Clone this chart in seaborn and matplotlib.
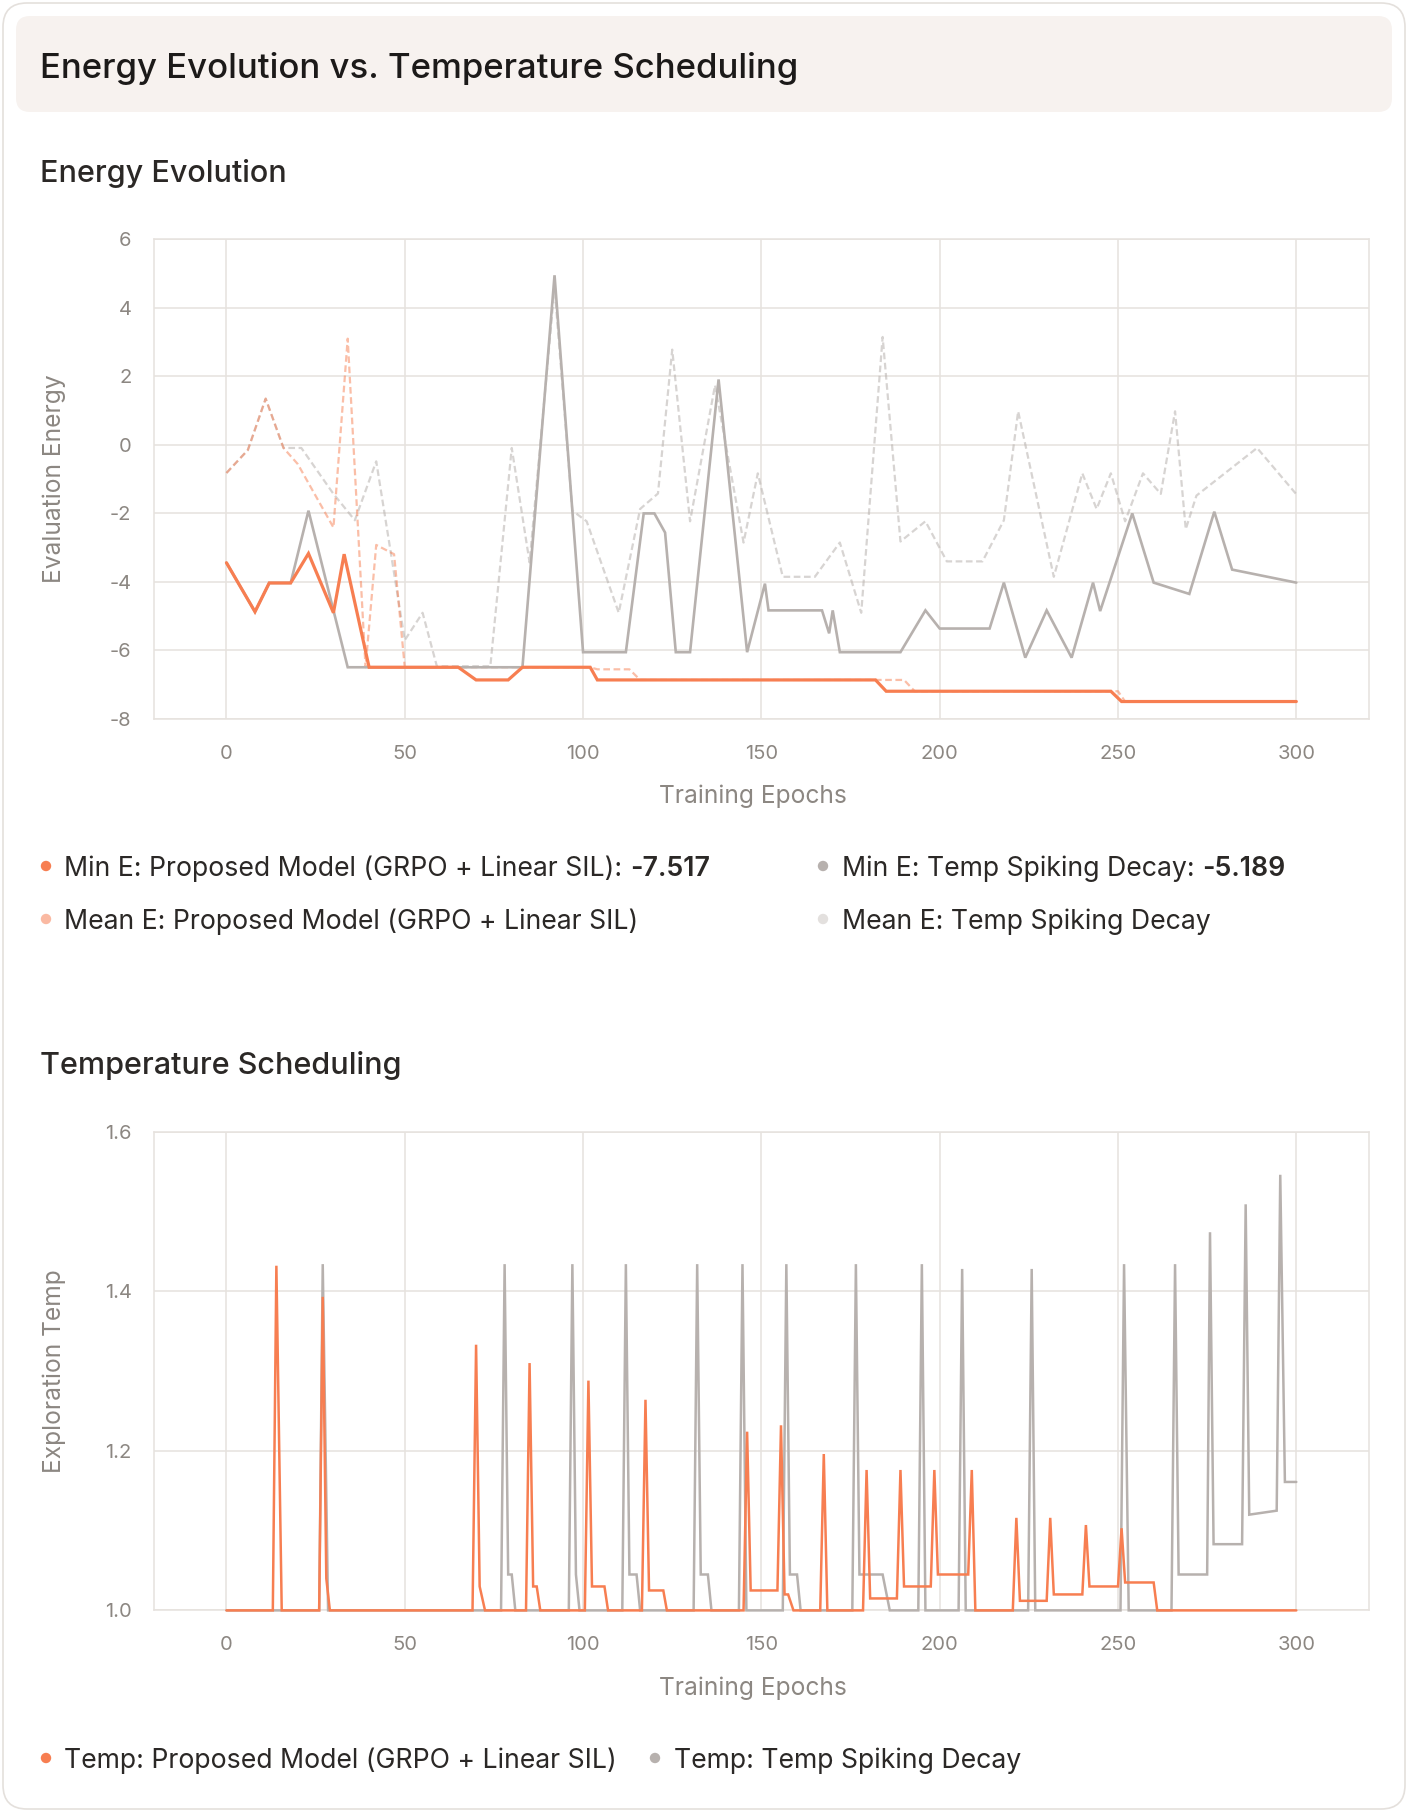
import numpy as np
import pandas as pd
import seaborn as sns
import matplotlib.pyplot as plt
from matplotlib.patches import FancyBboxPatch, Circle

"""
Data read off the chart (epoch, value vertices)
"""
# Energy evolution
min_prop_epochs = [0, 8, 12, 18, 23, 30, 33, 40, 65, 70, 79, 83, 102, 104, 182, 185, 248, 251, 300]
min_prop_values = [-3.44, -4.87, -4.03, -4.03, -3.17, -4.90, -3.19, -6.49, -6.49, -6.86,
                   -6.86, -6.49, -6.49, -6.86, -6.86, -7.19, -7.19, -7.49, -7.49]

min_spike_epochs = [0, 8, 12, 18, 23, 34, 83, 92, 100, 112, 117, 120, 123, 126, 130, 138, 146, 151, 152, 167,
                    169, 170, 172, 189, 196, 200, 214, 218, 224, 230, 237, 243, 245, 254, 260, 270, 277, 282, 300]
min_spike_values = [-3.44, -4.87, -4.03, -4.03, -1.92, -6.49, -6.49, 4.95, -6.05, -6.05,
                    -2.00, -2.00, -2.56, -6.05, -6.05, 1.91, -6.05, -4.05, -4.83, -4.83,
                    -5.50, -4.83, -6.05, -6.05, -4.83, -5.36, -5.36, -4.02, -6.21, -4.83,
                    -6.21, -4.02, -4.85, -2.00, -4.02, -4.35, -1.95, -3.64, -4.02]

mean_prop_epochs = [0, 6, 11, 16, 20, 30, 34, 39, 42, 47, 50, 102, 104, 113, 116, 190, 193, 250, 252, 300]
mean_prop_values = [-0.82, -0.15, 1.35, -0.09, -0.56, -2.41, 3.10, -6.49, -2.92, -3.19,
                    -6.49, -6.49, -6.55, -6.55, -6.86, -6.86, -7.19, -7.19, -7.49, -7.49]

mean_spike_epochs = [0, 6, 11, 16, 21, 30, 36, 42, 50, 55, 59, 74, 80, 85, 92, 97, 101, 110, 116, 121,
                     125, 130, 137, 145, 149, 156, 165, 172, 178, 184, 189, 196, 202, 212, 218, 222,
                     232, 240, 244, 248, 252, 257, 262, 266, 269, 272, 289, 300]
mean_spike_values = [-0.82, -0.15, 1.35, -0.09, -0.09, -1.43, -2.20, -0.48, -5.70, -4.90,
                     -6.46, -6.46, -0.09, -3.43, 4.60, -1.92, -2.23, -4.90, -1.87, -1.42,
                     2.78, -2.23, 1.74, -2.85, -0.83, -3.85, -3.85, -2.85, -4.90, 3.15,
                     -2.82, -2.23, -3.40, -3.40, -2.20, 0.98, -3.85, -0.83, -1.87, -0.83,
                     -2.23, -0.83, -1.43, 0.98, -2.46, -1.48, -0.09, -1.44]

# Temperature scheduling
temp_prop_epochs = [0, 13, 14, 15.5, 26, 27, 28, 29, 69, 70, 71, 72.5, 84, 85, 86, 87, 88,
                    100.5, 101.5, 102.5, 106, 107, 116.5, 117.5, 118.5, 122.5, 123.5,
                    145, 146, 147, 154.5, 155.5, 156.5, 157.5, 159, 166.5, 167.5, 168.5,
                    178.5, 179.5, 180.5, 188, 189, 190, 197.5, 198.5, 199.5, 208, 209, 210,
                    220.5, 221.5, 222.5, 230, 231, 232, 240, 241, 242, 250, 251, 252, 260, 261, 300]
temp_prop_values = [1.0, 1.0, 1.432, 1.0, 1.0, 1.393, 1.04, 1.0, 1.0, 1.333, 1.03, 1.0, 1.0, 1.31, 1.03, 1.03, 1.0,
                    1.0, 1.288, 1.03, 1.03, 1.0, 1.0, 1.264, 1.025, 1.025, 1.0,
                    1.0, 1.224, 1.025, 1.025, 1.232, 1.02, 1.02, 1.0, 1.0, 1.196, 1.0,
                    1.0, 1.176, 1.015, 1.015, 1.176, 1.03, 1.03, 1.176, 1.045, 1.045, 1.176, 1.0,
                    1.0, 1.116, 1.012, 1.012, 1.116, 1.02, 1.02, 1.107, 1.03, 1.03, 1.103, 1.035, 1.035, 1.0, 1.0]

temp_spike_epochs = [0, 26, 27, 28.5, 77, 78, 79, 80, 81, 96, 97, 98, 99, 111, 112, 113, 115, 116,
                     131, 132, 133, 135, 136, 143.7, 144.7, 145.8, 156, 157, 158, 160, 161,
                     175.5, 176.5, 177.5, 184, 186, 194, 195, 196, 205.3, 206.3, 207.3,
                     224.8, 225.8, 226.8, 250.7, 251.7, 253, 265, 266, 267, 275, 275.8, 276.8,
                     284.8, 285.8, 286.8, 294.5, 295.5, 296.8, 300]
temp_spike_values = [1.0, 1.0, 1.434, 1.0, 1.0, 1.434, 1.045, 1.045, 1.0, 1.0, 1.434, 1.045, 1.0, 1.0, 1.434, 1.045, 1.045, 1.0,
                     1.0, 1.434, 1.045, 1.045, 1.0, 1.0, 1.434, 1.0, 1.0, 1.434, 1.045, 1.045, 1.0,
                     1.0, 1.434, 1.045, 1.045, 1.0, 1.0, 1.434, 1.0, 1.0, 1.428, 1.0,
                     1.0, 1.428, 1.0, 1.0, 1.434, 1.0, 1.0, 1.434, 1.045, 1.045, 1.474, 1.083,
                     1.083, 1.509, 1.12, 1.125, 1.546, 1.161, 1.161]

x_ticks = [0, 50, 100, 150, 200, 250, 300]
energy_ticks = [-8, -6, -4, -2, 0, 2, 4, 6]
temp_ticks = [1.0, 1.2, 1.4, 1.6]

ORANGE = '#F77E51'
GREY = '#B7B1AE'
GRID = '#E6E2DE'
TICK = '#8C8782'
TEXT = '#2B2826'

sns.set_theme(style="white")
plt.rcParams['font.family'] = ['Inter', 'DejaVu Sans']
plt.rcParams['axes.unicode_minus'] = False

W, H = 1408, 1812
fig = plt.figure(figsize=(W / 100, H / 100), dpi=100)
fig.patch.set_facecolor('white')

# card + header (behind the axes)
fig.add_artist(FancyBboxPatch((0.03, 0.03), 14.02, 18.06, boxstyle="round,pad=0,rounding_size=0.24",
                              transform=fig.dpi_scale_trans, facecolor='none', edgecolor='#E4E0DC',
                              lw=1.2, zorder=-2))
fig.add_artist(FancyBboxPatch((0.16, (H - 112) / 100), 13.76, 0.96, boxstyle="round,pad=0,rounding_size=0.14",
                              transform=fig.dpi_scale_trans, facecolor='#F7F2EF', edgecolor='none', zorder=-2))
fig.text(40 / W, 1 - 68.5 / H, 'Energy Evolution vs. Temperature Scheduling', fontsize=25,
         fontweight='medium', color='#1C1A19', ha='left', va='center')
fig.text(40 / W, 1 - 173.5 / H, 'Energy Evolution', fontsize=22, fontweight='medium', color=TEXT,
         ha='left', va='center')
fig.text(40 / W, 1 - 1065.5 / H, 'Temperature Scheduling', fontsize=22, fontweight='medium', color=TEXT,
         ha='left', va='center')

ax1 = fig.add_axes([153.7 / W, 1 - 719 / H, 1215 / W, 479.7 / H])
ax2 = fig.add_axes([153.7 / W, 1 - 1610.4 / H, 1215 / W, 478.7 / H])


def line(ax, ep, val, color, lw, alpha=1.0, ls='-', clip=True):
    d = pd.DataFrame({'epoch': ep, 'value': val})
    sns.lineplot(data=d, x='epoch', y='value', ax=ax, estimator=None, sort=False, color=color,
                 linewidth=lw, alpha=alpha, linestyle=ls, clip_on=clip, solid_joinstyle='miter', zorder=3)


# energy: last drawn on top
dash = (0, (3, 1.6))
line(ax1, mean_spike_epochs, mean_spike_values, GREY, 1.6, 0.55, dash)
line(ax1, mean_prop_epochs, mean_prop_values, ORANGE, 1.6, 0.5, dash)
line(ax1, min_spike_epochs, min_spike_values, GREY, 1.9)
line(ax1, min_prop_epochs, min_prop_values, ORANGE, 2.3)

line(ax2, temp_spike_epochs, temp_spike_values, GREY, 1.8, clip=False)
line(ax2, temp_prop_epochs, temp_prop_values, ORANGE, 1.8, clip=False)


def style(ax, ylim, yticks, labels, ylabel):
    ax.set_xlim(-20.4, 320.3)
    ax.set_ylim(*ylim)
    ax.set_xticks(x_ticks)
    ax.set_yticks(yticks)
    ax.set_yticklabels(labels)
    ax.grid(True, color=GRID, lw=1.1)
    ax.set_axisbelow(True)
    for s in ax.spines.values():
        s.set_color(GRID)
        s.set_linewidth(1.1)
        s.set_zorder(1)
    ax.tick_params(axis='both', length=0, labelsize=14.5, labelcolor=TICK)
    ax.tick_params(axis='x', pad=18.7)
    ax.tick_params(axis='y', pad=16)
    ax.set_xlabel('Training Epochs', fontsize=17.7, color=TICK, va='center')
    ax.xaxis.set_label_coords(0.493, -0.162)
    ax.set_ylabel(ylabel, fontsize=17.7, color=TICK, va='center')
    ax.yaxis.set_label_coords(-0.082, 0.5)


style(ax1, (-8, 6), energy_ticks, [str(t) for t in energy_ticks], 'Evaluation Energy')
style(ax2, (1.0, 1.6), temp_ticks, ['%.1f' % t for t in temp_ticks], 'Exploration Temp')

renderer = fig.canvas.get_renderer()


def legend_item(x, y, color, label, value=None):
    fig.add_artist(Circle((x / 100, (H - y) / 100), 0.052, transform=fig.dpi_scale_trans,
                          facecolor=color, edgecolor='none'))
    t = fig.text((x + 18.5) / W, 1 - y / H, label, fontsize=19.2, color=TEXT, ha='left', va='center_baseline')
    if value is not None:
        bb = t.get_window_extent(renderer)
        fig.text(bb.x1 / W, 1 - y / H, value, fontsize=19.2, fontweight='semibold', color=TEXT,
                 ha='left', va='center_baseline')


legend_item(46, 866, ORANGE, 'Min E: Proposed Model (GRPO + Linear SIL): ', '-7.517')
legend_item(823, 866, GREY, 'Min E: Temp Spiking Decay: ', '-5.189')
legend_item(46, 919, '#FAB9A2', 'Mean E: Proposed Model (GRPO + Linear SIL)')
legend_item(823, 919, '#E3E0DE', 'Mean E: Temp Spiking Decay')
legend_item(46, 1758, ORANGE, 'Temp: Proposed Model (GRPO + Linear SIL)')
legend_item(655, 1758, GREY, 'Temp: Temp Spiking Decay')

fig.savefig('out.png', dpi=100, facecolor='white')
